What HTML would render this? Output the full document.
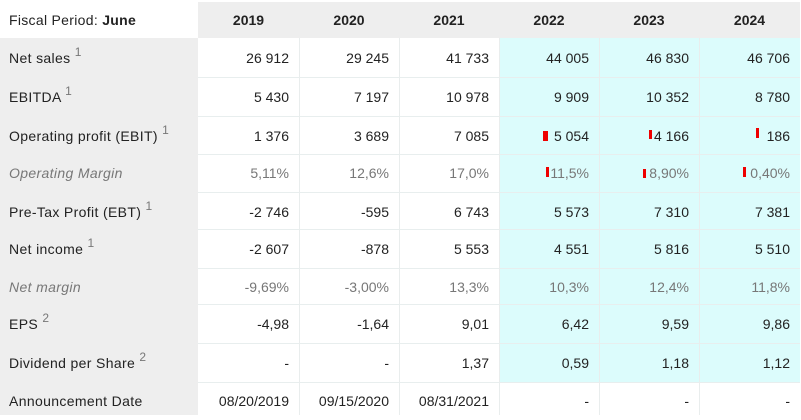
<!DOCTYPE html>
<html><head><meta charset="utf-8">
<style>
html,body{margin:0;padding:0;background:#fff;}
body{width:801px;height:415px;position:relative;overflow:hidden;font-family:"Liberation Sans",Arial,sans-serif;font-size:14px;color:#222;}
.a{position:absolute;}
.hdr{background:#eeeeee;left:198px;top:2px;width:602px;height:36px;}
.leftcol{background:#eeeeee;left:0;top:38px;width:198px;height:377px;}
.cyan{background:#dcfcfc;left:499px;top:38px;width:301px;height:344px;}
.hl{height:1px;left:198px;width:602px;background:#e8eeee;}
.vl{width:1px;top:38px;height:377px;background:#e9eded;}
.yr{top:2px;height:36px;line-height:36px;width:100px;text-align:center;font-weight:bold;}
.lab{left:9px;white-space:nowrap;letter-spacing:0.35px;}
.c{width:90px;text-align:right;white-space:nowrap;}
.it{font-style:italic;color:#777;}
.g{color:#777;}
sup{font-size:12px;color:#777;position:relative;top:-1px;vertical-align:super;line-height:0;letter-spacing:0;}
.bar{background:#ee0000;}
</style></head><body>
<div class="a hdr"></div>
<div class="a leftcol"></div>
<div class="a cyan"></div>

<div class="a" style="left:9px;top:2px;height:36px;line-height:36px;letter-spacing:0.3px;">Fiscal Period: <b>June</b></div>
<div class="a yr" style="left:198px;width:101px;">2019</div>
<div class="a yr" style="left:299px;">2020</div>
<div class="a yr" style="left:399px;">2021</div>
<div class="a yr" style="left:499px;">2022</div>
<div class="a yr" style="left:599px;">2023</div>
<div class="a yr" style="left:699px;width:101px;">2024</div>

<div class="a hl" style="top:77px"></div>
<div class="a hl" style="top:116px"></div>
<div class="a hl" style="top:154px"></div>
<div class="a hl" style="top:192px"></div>
<div class="a hl" style="top:229px"></div>
<div class="a hl" style="top:268px"></div>
<div class="a hl" style="top:304px"></div>
<div class="a hl" style="top:343px"></div>
<div class="a hl" style="top:382px"></div>
<div class="a vl" style="left:299px"></div>
<div class="a vl" style="left:399px"></div>
<div class="a vl" style="left:499px"></div>
<div class="a vl" style="left:599px"></div>
<div class="a vl" style="left:699px"></div>

<div class="a lab" style="top:38px;height:39px;line-height:41px;">Net sales <sup>1</sup></div>
<div class="a c" style="left:199px;top:38px;line-height:41px;">26 912</div>
<div class="a c" style="left:299px;top:38px;line-height:41px;">29 245</div>
<div class="a c" style="left:399px;top:38px;line-height:41px;">41 733</div>
<div class="a c" style="left:499px;top:38px;line-height:41px;">44 005</div>
<div class="a c" style="left:599px;top:38px;line-height:41px;">46 830</div>
<div class="a c" style="left:700px;top:38px;line-height:41px;">46 706</div>

<div class="a lab" style="top:77px;line-height:41px;">EBITDA <sup>1</sup></div>
<div class="a c" style="left:199px;top:77px;line-height:41px;">5 430</div>
<div class="a c" style="left:299px;top:77px;line-height:41px;">7 197</div>
<div class="a c" style="left:399px;top:77px;line-height:41px;">10 978</div>
<div class="a c" style="left:499px;top:77px;line-height:41px;">9 909</div>
<div class="a c" style="left:599px;top:77px;line-height:41px;">10 352</div>
<div class="a c" style="left:700px;top:77px;line-height:41px;">8 780</div>

<div class="a lab" style="top:116px;line-height:40px;">Operating profit (EBIT) <sup>1</sup></div>
<div class="a c" style="left:199px;top:116px;line-height:40px;">1 376</div>
<div class="a c" style="left:299px;top:116px;line-height:40px;">3 689</div>
<div class="a c" style="left:399px;top:116px;line-height:40px;">7 085</div>
<div class="a c" style="left:499px;top:116px;line-height:40px;">5 054</div>
<div class="a c" style="left:599px;top:116px;line-height:40px;">4 166</div>
<div class="a c" style="left:700px;top:116px;line-height:40px;">186</div>
<div class="a bar" style="left:543px;top:131px;width:5px;height:10px;"></div>
<div class="a bar" style="left:649px;top:130px;width:3px;height:9px;"></div>
<div class="a bar" style="left:756px;top:128px;width:3px;height:10px;"></div>

<div class="a lab it" style="top:154px;line-height:38px;">Operating Margin</div>
<div class="a c g" style="left:199px;top:154px;line-height:38px;">5,11%</div>
<div class="a c g" style="left:299px;top:154px;line-height:38px;">12,6%</div>
<div class="a c g" style="left:399px;top:154px;line-height:38px;">17,0%</div>
<div class="a c g" style="left:499px;top:154px;line-height:38px;">11,5%</div>
<div class="a c g" style="left:599px;top:154px;line-height:38px;">8,90%</div>
<div class="a c g" style="left:700px;top:154px;line-height:38px;">0,40%</div>
<div class="a bar" style="left:546px;top:167px;width:3px;height:10px;"></div>
<div class="a bar" style="left:643px;top:169px;width:3px;height:9px;"></div>
<div class="a bar" style="left:743px;top:167px;width:3px;height:10px;"></div>

<div class="a lab" style="top:192px;line-height:40px;">Pre-Tax Profit (EBT) <sup>1</sup></div>
<div class="a c" style="left:199px;top:192px;line-height:40px;">-2 746</div>
<div class="a c" style="left:299px;top:192px;line-height:40px;">-595</div>
<div class="a c" style="left:399px;top:192px;line-height:40px;">6 743</div>
<div class="a c" style="left:499px;top:192px;line-height:40px;">5 573</div>
<div class="a c" style="left:599px;top:192px;line-height:40px;">7 310</div>
<div class="a c" style="left:700px;top:192px;line-height:40px;">7 381</div>

<div class="a lab" style="top:229px;line-height:41px;">Net income <sup>1</sup></div>
<div class="a c" style="left:199px;top:229px;line-height:41px;">-2 607</div>
<div class="a c" style="left:299px;top:229px;line-height:41px;">-878</div>
<div class="a c" style="left:399px;top:229px;line-height:41px;">5 553</div>
<div class="a c" style="left:499px;top:229px;line-height:41px;">4 551</div>
<div class="a c" style="left:599px;top:229px;line-height:41px;">5 816</div>
<div class="a c" style="left:700px;top:229px;line-height:41px;">5 510</div>

<div class="a lab it" style="top:268px;line-height:38px;">Net margin</div>
<div class="a c g" style="left:199px;top:268px;line-height:38px;">-9,69%</div>
<div class="a c g" style="left:299px;top:268px;line-height:38px;">-3,00%</div>
<div class="a c g" style="left:399px;top:268px;line-height:38px;">13,3%</div>
<div class="a c g" style="left:499px;top:268px;line-height:38px;">10,3%</div>
<div class="a c g" style="left:599px;top:268px;line-height:38px;">12,4%</div>
<div class="a c g" style="left:700px;top:268px;line-height:38px;">11,8%</div>

<div class="a lab" style="top:304px;line-height:41px;">EPS <sup>2</sup></div>
<div class="a c" style="left:199px;top:304px;line-height:41px;">-4,98</div>
<div class="a c" style="left:299px;top:304px;line-height:41px;">-1,64</div>
<div class="a c" style="left:399px;top:304px;line-height:41px;">9,01</div>
<div class="a c" style="left:499px;top:304px;line-height:41px;">6,42</div>
<div class="a c" style="left:599px;top:304px;line-height:41px;">9,59</div>
<div class="a c" style="left:700px;top:304px;line-height:41px;">9,86</div>

<div class="a lab" style="top:343px;line-height:41px;">Dividend per Share <sup>2</sup></div>
<div class="a c" style="left:199px;top:343px;line-height:41px;">-</div>
<div class="a c" style="left:299px;top:343px;line-height:41px;">-</div>
<div class="a c" style="left:399px;top:343px;line-height:41px;">1,37</div>
<div class="a c" style="left:499px;top:343px;line-height:41px;">0,59</div>
<div class="a c" style="left:599px;top:343px;line-height:41px;">1,18</div>
<div class="a c" style="left:700px;top:343px;line-height:41px;">1,12</div>

<div class="a lab" style="top:382px;line-height:38px;">Announcement Date</div>
<div class="a c" style="left:199px;top:382px;line-height:38px;">08/20/2019</div>
<div class="a c" style="left:299px;top:382px;line-height:38px;">09/15/2020</div>
<div class="a c" style="left:399px;top:382px;line-height:38px;">08/31/2021</div>
<div class="a c" style="left:499px;top:382px;line-height:38px;">-</div>
<div class="a c" style="left:599px;top:382px;line-height:38px;">-</div>
<div class="a c" style="left:700px;top:382px;line-height:38px;">-</div>
</body></html>
